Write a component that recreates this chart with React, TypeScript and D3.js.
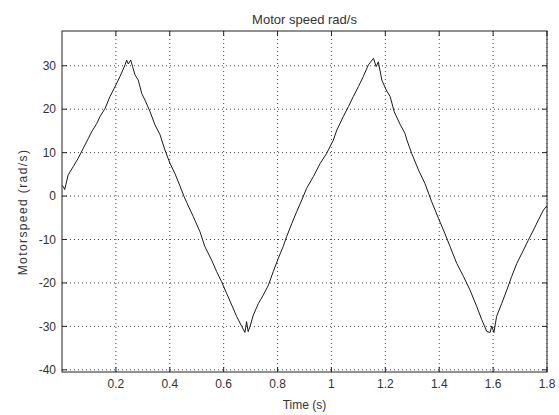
import React from "react";
import * as d3 from "d3";

const times = [
  0.0, 0.005, 0.01, 0.023, 0.042, 0.06, 0.079, 0.098, 0.11, 0.129, 0.141, 0.16, 0.178, 0.197, 0.215, 0.234,
  0.24, 0.246, 0.255, 0.262, 0.271, 0.283, 0.296, 0.308, 0.327, 0.345, 0.364, 0.382, 0.401, 0.419, 0.438,
  0.453, 0.463, 0.487, 0.512, 0.53, 0.555, 0.574, 0.592, 0.611, 0.63, 0.648, 0.667, 0.679, 0.685, 0.691,
  0.698, 0.71, 0.729, 0.747, 0.766, 0.784, 0.803, 0.821, 0.834, 0.853, 0.871, 0.89, 0.908, 0.933, 0.958,
  0.982, 1.007, 1.02, 1.044, 1.063, 1.081, 1.1, 1.118, 1.137, 1.156, 1.166, 1.174, 1.187, 1.205, 1.218,
  1.233, 1.255, 1.273, 1.28, 1.298, 1.323, 1.347, 1.372, 1.397, 1.421, 1.44, 1.465, 1.49, 1.514, 1.539,
  1.558, 1.577, 1.589, 1.595, 1.603, 1.613, 1.632, 1.651, 1.669, 1.688, 1.713, 1.731, 1.75, 1.768, 1.787, 1.8,
];
const speeds = [
  2.4, 2.2, 1.5, 4.9, 6.8, 8.7, 11.0, 13.3, 14.8, 16.7, 18.3, 20.2, 22.9, 25.2, 27.5, 30.2,
  31.3, 30.4, 31.3, 29.8, 27.9, 26.7, 23.6, 22.1, 19.4, 16.4, 14.1, 10.6, 7.5, 5.2, 2.3,
  -0.1, -1.5, -4.7, -8.2, -11.6, -14.7, -17.4, -19.7, -22.4, -25.1, -27.7, -30.0, -31.4, -28.9, -31.2,
  -30.0, -27.4, -24.7, -22.8, -20.5, -17.4, -14.3, -11.6, -9.3, -6.3, -3.6, -0.9, 1.8, 4.5, 7.5,
  9.8, 12.9, 15.2, 18.3, 20.6, 22.9, 25.2, 27.5, 30.2, 31.7, 29.8, 30.9, 26.7, 24.2, 22.9,
  19.4, 16.5, 14.4, 12.9, 9.8, 6.0, 2.9, -1.3, -5.1, -8.6, -11.6, -15.5, -18.5, -21.6, -25.4,
  -28.5, -31.2, -31.4, -29.9, -31.4, -27.7, -24.7, -21.6, -18.5, -15.5, -12.4, -10.1, -7.8, -5.5, -3.2, -2.2,
];

const xTicks = [0.2, 0.4, 0.6, 0.8, 1, 1.2, 1.4, 1.6, 1.8];
const yTicks = [-40, -30, -20, -10, 0, 10, 20, 30];
const xDomain = [0, 1.8];
const yDomain = [-40.5, 38];

const W = 559;
const H = 415;
const M = { left: 62, right: 547, top: 31, bottom: 372 };

export default function App() {
  const x = d3.scaleLinear().domain(xDomain).range([M.left, M.right]);
  const y = d3.scaleLinear().domain(yDomain).range([M.bottom, M.top]);
  const pts = times.map((t, i) => [t, speeds[i]] as [number, number]);
  const line = d3
    .line<[number, number]>()
    .x((d) => x(d[0]))
    .y((d) => y(d[1]));
  const font = "Liberation Sans, Arial, Helvetica, sans-serif";
  const tickLen = 5;
  const axisColor = "#222";
  const textColor = "#333";
  return (
    <svg
      width={W}
      height={H}
      style={{ position: "absolute", left: 0, top: 0, background: "#fff" }}
      fontFamily={font}
    >
      <rect x={0} y={0} width={W} height={H} fill="#fff" />
      {/* grid */}
      {xTicks.map((t) => (
        <line
          key={"gx" + t}
          x1={x(t)}
          x2={x(t)}
          y1={M.top}
          y2={M.bottom}
          stroke="#444"
          strokeWidth={1}
          strokeDasharray="1,3"
        />
      ))}
      {yTicks.map((t) => (
        <line
          key={"gy" + t}
          x1={M.left}
          x2={M.right}
          y1={y(t)}
          y2={y(t)}
          stroke="#444"
          strokeWidth={1}
          strokeDasharray="1,3"
        />
      ))}
      {/* data */}
      <path d={line(pts) || ""} fill="none" stroke="#1a1a1a" strokeWidth={1} />
      {/* box */}
      <rect
        x={M.left}
        y={M.top}
        width={M.right - M.left}
        height={M.bottom - M.top}
        fill="none"
        stroke={axisColor}
        strokeWidth={1}
      />
      {/* ticks */}
      {xTicks.map((t) => (
        <g key={"tx" + t}>
          <line x1={x(t)} x2={x(t)} y1={M.bottom} y2={M.bottom - tickLen} stroke={axisColor} />
          <line x1={x(t)} x2={x(t)} y1={M.top} y2={M.top + tickLen} stroke={axisColor} />
          <text x={x(t)} y={388} textAnchor="middle" fontSize={12} fill={textColor}>
            {String(t)}
          </text>
        </g>
      ))}
      {yTicks.map((t) => (
        <g key={"ty" + t}>
          <line x1={M.left} x2={M.left + tickLen} y1={y(t)} y2={y(t)} stroke={axisColor} />
          <line x1={M.right} x2={M.right - tickLen} y1={y(t)} y2={y(t)} stroke={axisColor} />
          <text x={56} y={y(t) + 4.3} textAnchor="end" fontSize={12} fill={textColor}>
            {String(t)}
          </text>
        </g>
      ))}
      {/* labels */}
      <text x={(M.left + M.right) / 2} y={24} textAnchor="middle" fontSize={13} fill={textColor}>
        Motor speed rad/s
      </text>
      <text x={(M.left + M.right) / 2} y={409} textAnchor="middle" fontSize={12} fill={textColor}>
        Time (s)
      </text>
      <text
        transform={`translate(27, 212) rotate(-90)`}
        textAnchor="middle"
        fontSize={12}
        letterSpacing={1.4}
        fill={textColor}
      >
        Motorspeed (rad/s)
      </text>
    </svg>
  );
}
